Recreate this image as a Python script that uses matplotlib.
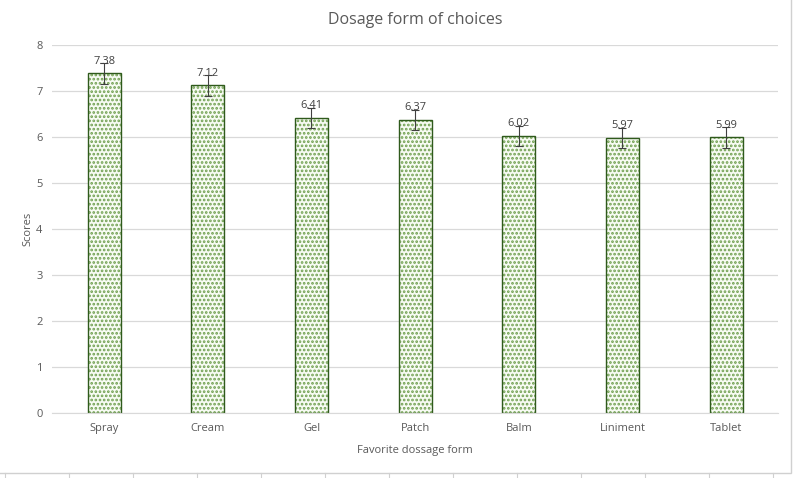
import matplotlib.pyplot as plt
from matplotlib.lines import Line2D
from matplotlib.patches import Rectangle

plt.rcParams["font.family"] = ["Open Sans", "DejaVu Sans"]
plt.rcParams["hatch.linewidth"] = 1.3

forms = ["Spray", "Cream", "Gel", "Patch", "Balm", "Liniment", "Tablet"]
scores = [7.38, 7.12, 6.41, 6.37, 6.02, 5.97, 5.99]
errors = [0.22, 0.22, 0.22, 0.22, 0.22, 0.22, 0.22]

fig = plt.figure(figsize=(7.93, 4.78), dpi=100)
ax = fig.add_axes([0.066, 0.136, 0.915, 0.77])

x = range(len(forms))
# dotted fill, then the dark outline on top
ax.bar(x, scores, width=0.32, facecolor="#f7fbf3", edgecolor="#6f9f4f",
       linewidth=0, hatch="....", zorder=2)
ax.bar(x, scores, width=0.32, facecolor="none", edgecolor="#2f5a1c",
       linewidth=1.0, zorder=2)
ax.errorbar(x, scores, yerr=errors, fmt="none", ecolor="#404040",
            elinewidth=0.8, capsize=3, capthick=0.8, zorder=3)

for xi, v, e in zip(x, scores, errors):
    ax.text(xi, v + 0.15, f"{v:.2f}", ha="center", va="bottom",
            fontsize=8, color="#404040", zorder=4)

ax.set_ylim(0, 8)
ax.set_xlim(-0.5, len(forms) - 0.5)
ax.set_yticks(range(0, 9))
ax.set_xticks(list(x))
ax.set_xticklabels(forms)
ax.grid(axis="y", color="#d9d9d9", linewidth=0.9, zorder=0)
ax.tick_params(axis="both", length=0, labelsize=8, colors="#595959", pad=7)
for s in ["top", "right", "left"]:
    ax.spines[s].set_visible(False)
ax.spines["bottom"].set_color("#d9d9d9")

ax.set_title("Dosage form of choices", fontsize=11.5, color="#595959", pad=15)
ax.set_xlabel("Favorite dossage form", fontsize=8, color="#595959", labelpad=8)
ax.set_ylabel("Scores", fontsize=8, color="#595959", labelpad=2)

# chart border and sheet grid underneath
fig.patches.append(Rectangle((-0.01, 0.011), 1.008, 1.0, transform=fig.transFigure,
                             fill=False, edgecolor="#d0d0d0", linewidth=1.0))
for px in range(5, 793, 64):
    fig.lines.append(Line2D([px / 793, px / 793], [0, 0.011], transform=fig.transFigure,
                            color="#d0d0d0", linewidth=0.8))

fig.savefig("out.png", dpi=100)
